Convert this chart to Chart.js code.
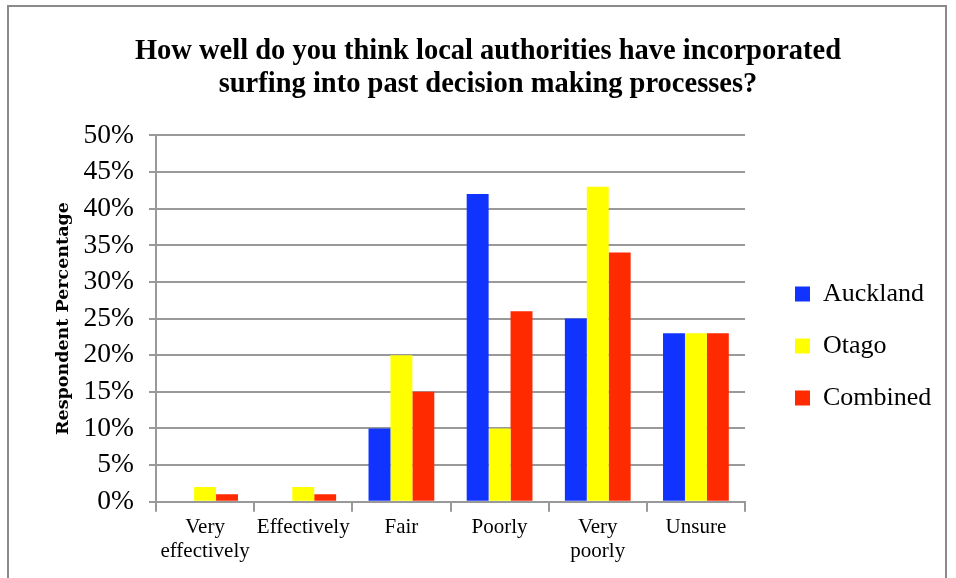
<!DOCTYPE html>
<html>
<head>
<meta charset="utf-8">
<script src="https://cdn.jsdelivr.net/npm/chart.js@4"></script>
<style>
  body { margin: 0; background: #fff; overflow: hidden; }
  #frame {
    position: absolute; left: 7px; top: 5px; width: 940px; height: 600px;
    border: 2px solid #8a8a8a; box-sizing: border-box;
  }
  #wrap { position: absolute; left: 0; top: 0; width: 956px; height: 578px; }
</style>
</head>
<body>
<div id="frame"></div>
<div id="wrap"><canvas id="chart" width="956" height="578"></canvas></div>
<script>
const categories = [["Very", "effectively"], "Effectively", "Fair", "Poorly", ["Very", "poorly"], "Unsure"];
const auckland = [0, 0, 10, 42, 25, 23];
const otago = [2, 2, 20, 10, 43, 23];
const combined = [1, 1, 15, 26, 34, 23];
const yTicks = [0, 5, 10, 15, 20, 25, 30, 35, 40, 45, 50];

const serif = "'Liberation Serif', 'DejaVu Serif', serif";

// legend sits further from the plot than chart.js would put it
const LEGEND_WIDTH = 191;
const LEGEND_SHIFT = 24;
const legendGap = {
    id: 'legendGap',
    beforeInit(chart) {
        const fit = chart.legend.fit;
        chart.legend.fit = function () {
            fit.call(this);
            this.width = LEGEND_WIDTH;
        };
    },
    afterLayout(chart) {
        chart.legend.left += LEGEND_SHIFT;
        chart.legend.right += LEGEND_SHIFT;
    }
};

new Chart(document.getElementById("chart"), {
    type: 'bar',
    data: {
        labels: categories,
        datasets: [
            { label: "Auckland", data: auckland, backgroundColor: "#1133FF" },
            { label: "Otago", data: otago, backgroundColor: "#FFFF00" },
            { label: "Combined", data: combined, backgroundColor: "#FF2A00" }
        ]
    },
    plugins: [legendGap],
    options: {
        responsive: false,
        animation: false,
        layout: { padding: { left: 40, right: 20, top: 36, bottom: 10 } },
        datasets: { bar: { categoryPercentage: 0.67, barPercentage: 1.0 } },
        plugins: {
            title: {
                display: true,
                text: ["How well do you think local authorities have incorporated",
                       "surfing into past decision making processes?"],
                color: "#000",
                font: { family: serif, size: 28.5, weight: 'bold', lineHeight: 1.13 },
                padding: { top: 0, bottom: 35 }
            },
            legend: {
                position: 'right',
                align: 'center',
                title: {
                    display: true,
                    text: " ",
                    font: { size: 10 },
                    padding: { top: 38, bottom: 38 }
                },
                labels: {
                    color: "#000",
                    font: { family: serif, size: 26 },
                    boxWidth: 15,
                    boxHeight: 15,
                    padding: 26
                }
            },
            tooltip: { enabled: false }
        },
        scales: {
            x: {
                border: { color: "#999", width: 2 },
                grid: { drawOnChartArea: false, drawTicks: true, tickLength: 10, color: "#999", lineWidth: 2 },
                ticks: { color: "#000", font: { family: serif, size: 21, lineHeight: 1.15 }, padding: 4, maxRotation: 0 }
            },
            y: {
                min: 0,
                max: 50,
                afterBuildTicks: (axis) => { axis.ticks = yTicks.map(v => ({ value: v })); },
                afterFit: (axis) => { axis.width = 116; },
                border: { color: "#999", width: 2 },
                grid: { color: "#999", lineWidth: 2, tickLength: 7 },
                ticks: {
                    color: "#000",
                    font: { family: serif, size: 27.5 },
                    padding: 15,
                    callback: (v) => v + "%"
                },
                title: {
                    display: true,
                    text: "Respondent Percentage",
                    color: "#000",
                    font: { family: "'DejaVu Serif', serif", size: 17.5, weight: 'bold' },
                    padding: { top: 13, bottom: 4 }
                }
            }
        }
    }
});
</script>
</body>
</html>
